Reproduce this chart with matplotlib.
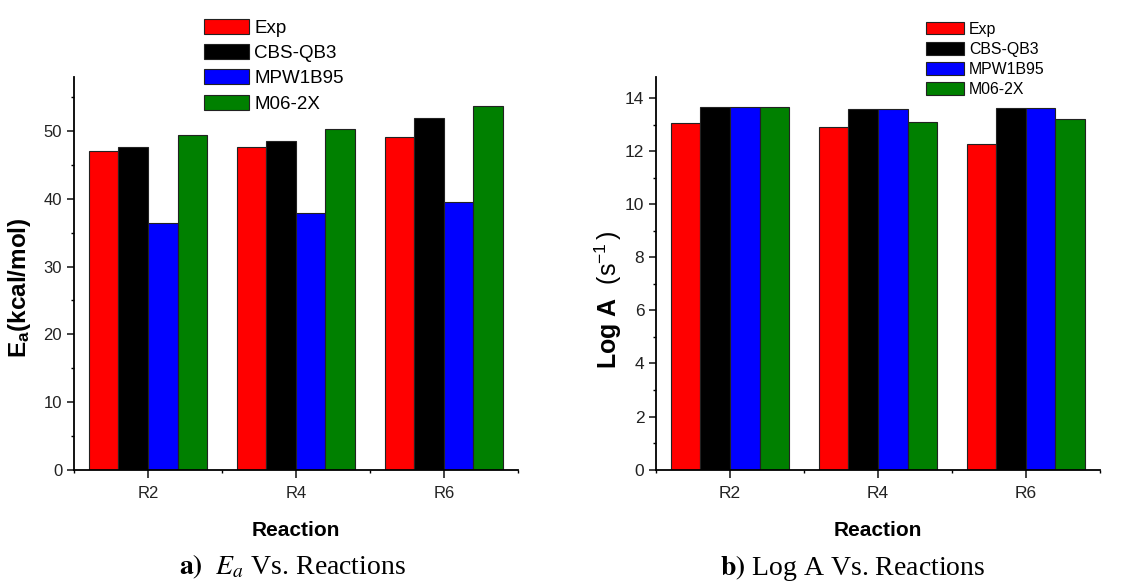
import matplotlib.pyplot as plt
import numpy as np
from matplotlib.ticker import MultipleLocator, FixedLocator

plt.rcParams['font.family'] = 'Liberation Sans'
plt.rcParams['mathtext.fontset'] = 'custom'
plt.rcParams['mathtext.rm'] = 'Liberation Sans'
plt.rcParams['mathtext.it'] = 'Liberation Sans:italic'
plt.rcParams['mathtext.bf'] = 'Liberation Sans:bold'

reactions = ["R2", "R4", "R6"]
methods = ["Exp", "CBS-QB3", "MPW1B95", "M06-2X"]
colors = ["#ff0000", "#000000", "#0000ff", "#008000"]

ea_exp = [47.1, 47.7, 49.2]
ea_cbs = [47.6, 48.6, 51.9]
ea_mpw = [36.4, 37.9, 39.6]
ea_m06 = [49.4, 50.3, 53.7]

loga_exp = [13.06, 12.92, 12.27]
loga_cbs = [13.67, 13.59, 13.65]
loga_mpw = [13.67, 13.59, 13.65]
loga_m06 = [13.67, 13.11, 13.21]

fig = plt.figure(figsize=(11.38, 5.84), dpi=100)
ax1 = fig.add_axes([0.065, 0.196, 0.390, 0.672])
ax2 = fig.add_axes([0.5765, 0.196, 0.390, 0.672])

x = np.arange(1, len(reactions) + 1)
w = 0.2

def draw(ax, series, ymax, major, minor, tsize):
    for i, (vals, col) in enumerate(zip(series, colors)):
        ax.bar(x - 0.3 + i * w, vals, w, color=col, edgecolor='#222222',
               linewidth=0.8, label=methods[i])
    ax.set_xlim(0.5, 3.5)
    ax.set_ylim(0, ymax)
    ax.set_xticks(x)
    ax.set_xticklabels(reactions)
    ax.xaxis.set_minor_locator(FixedLocator([0.5, 1.5, 2.5, 3.5]))
    ax.yaxis.set_major_locator(MultipleLocator(major))
    ax.yaxis.set_minor_locator(MultipleLocator(minor))
    ax.spines['top'].set_visible(False)
    ax.spines['right'].set_visible(False)
    for s in ['left', 'bottom']:
        ax.spines[s].set_linewidth(1.3)
    ax.tick_params(which='major', direction='out', length=5, width=1.2,
                   labelsize=tsize, colors='#222222')
    ax.tick_params(which='minor', direction='out', length=2.5, width=1.0)
    ax.tick_params(axis='x', which='major', length=6, pad=6)
    ax.set_xlabel("Reaction", fontsize=15, fontweight='bold', labelpad=14)

draw(ax1, [ea_exp, ea_cbs, ea_mpw, ea_m06], 58, 10, 5, 12)
draw(ax2, [loga_exp, loga_cbs, loga_mpw, loga_m06], 14.8, 2, 1, 12.5)
ax2.set_yticks(np.arange(0, 15, 2))

ax1.set_ylabel(r'$\mathbf{E_a}$(kcal/mol)', fontsize=17.5, fontweight='bold')
ax1.yaxis.set_label_coords(-0.092, 0.462)
ax2.set_ylabel(r'Log A  $(\mathrm{s}^{-1}\,)$', fontsize=18, fontweight='bold')
ax2.yaxis.set_label_coords(-0.072, 0.432)

h1, l1 = ax1.get_legend_handles_labels()
fig.legend(h1, l1, loc='upper left', bbox_to_anchor=(0.179, 0.967),
           frameon=False, fontsize=13.5, handlelength=2.4, handleheight=0.85,
           labelspacing=0.38, handletextpad=0.3, borderpad=0, borderaxespad=0)
h2, l2 = ax2.get_legend_handles_labels()
fig.legend(h2, l2, loc='upper left', bbox_to_anchor=(0.814, 0.963),
           frameon=False, fontsize=11.4, handlelength=2.4, handleheight=0.85,
           labelspacing=0.32, handletextpad=0.3, borderpad=0, borderaxespad=0)

fig.text(0.257, 0.016, r'$\mathbf{a)}$  $E_a$ Vs. Reactions', fontsize=20,
         ha='center', va='baseline', family='Liberation Serif', math_fontfamily='stix')
fig.text(0.749, 0.016, r'$\mathbf{b)}$ Log A Vs. Reactions', fontsize=20,
         ha='center', va='baseline', family='Liberation Serif', math_fontfamily='stix')

fig.savefig('out.png', dpi=100)
